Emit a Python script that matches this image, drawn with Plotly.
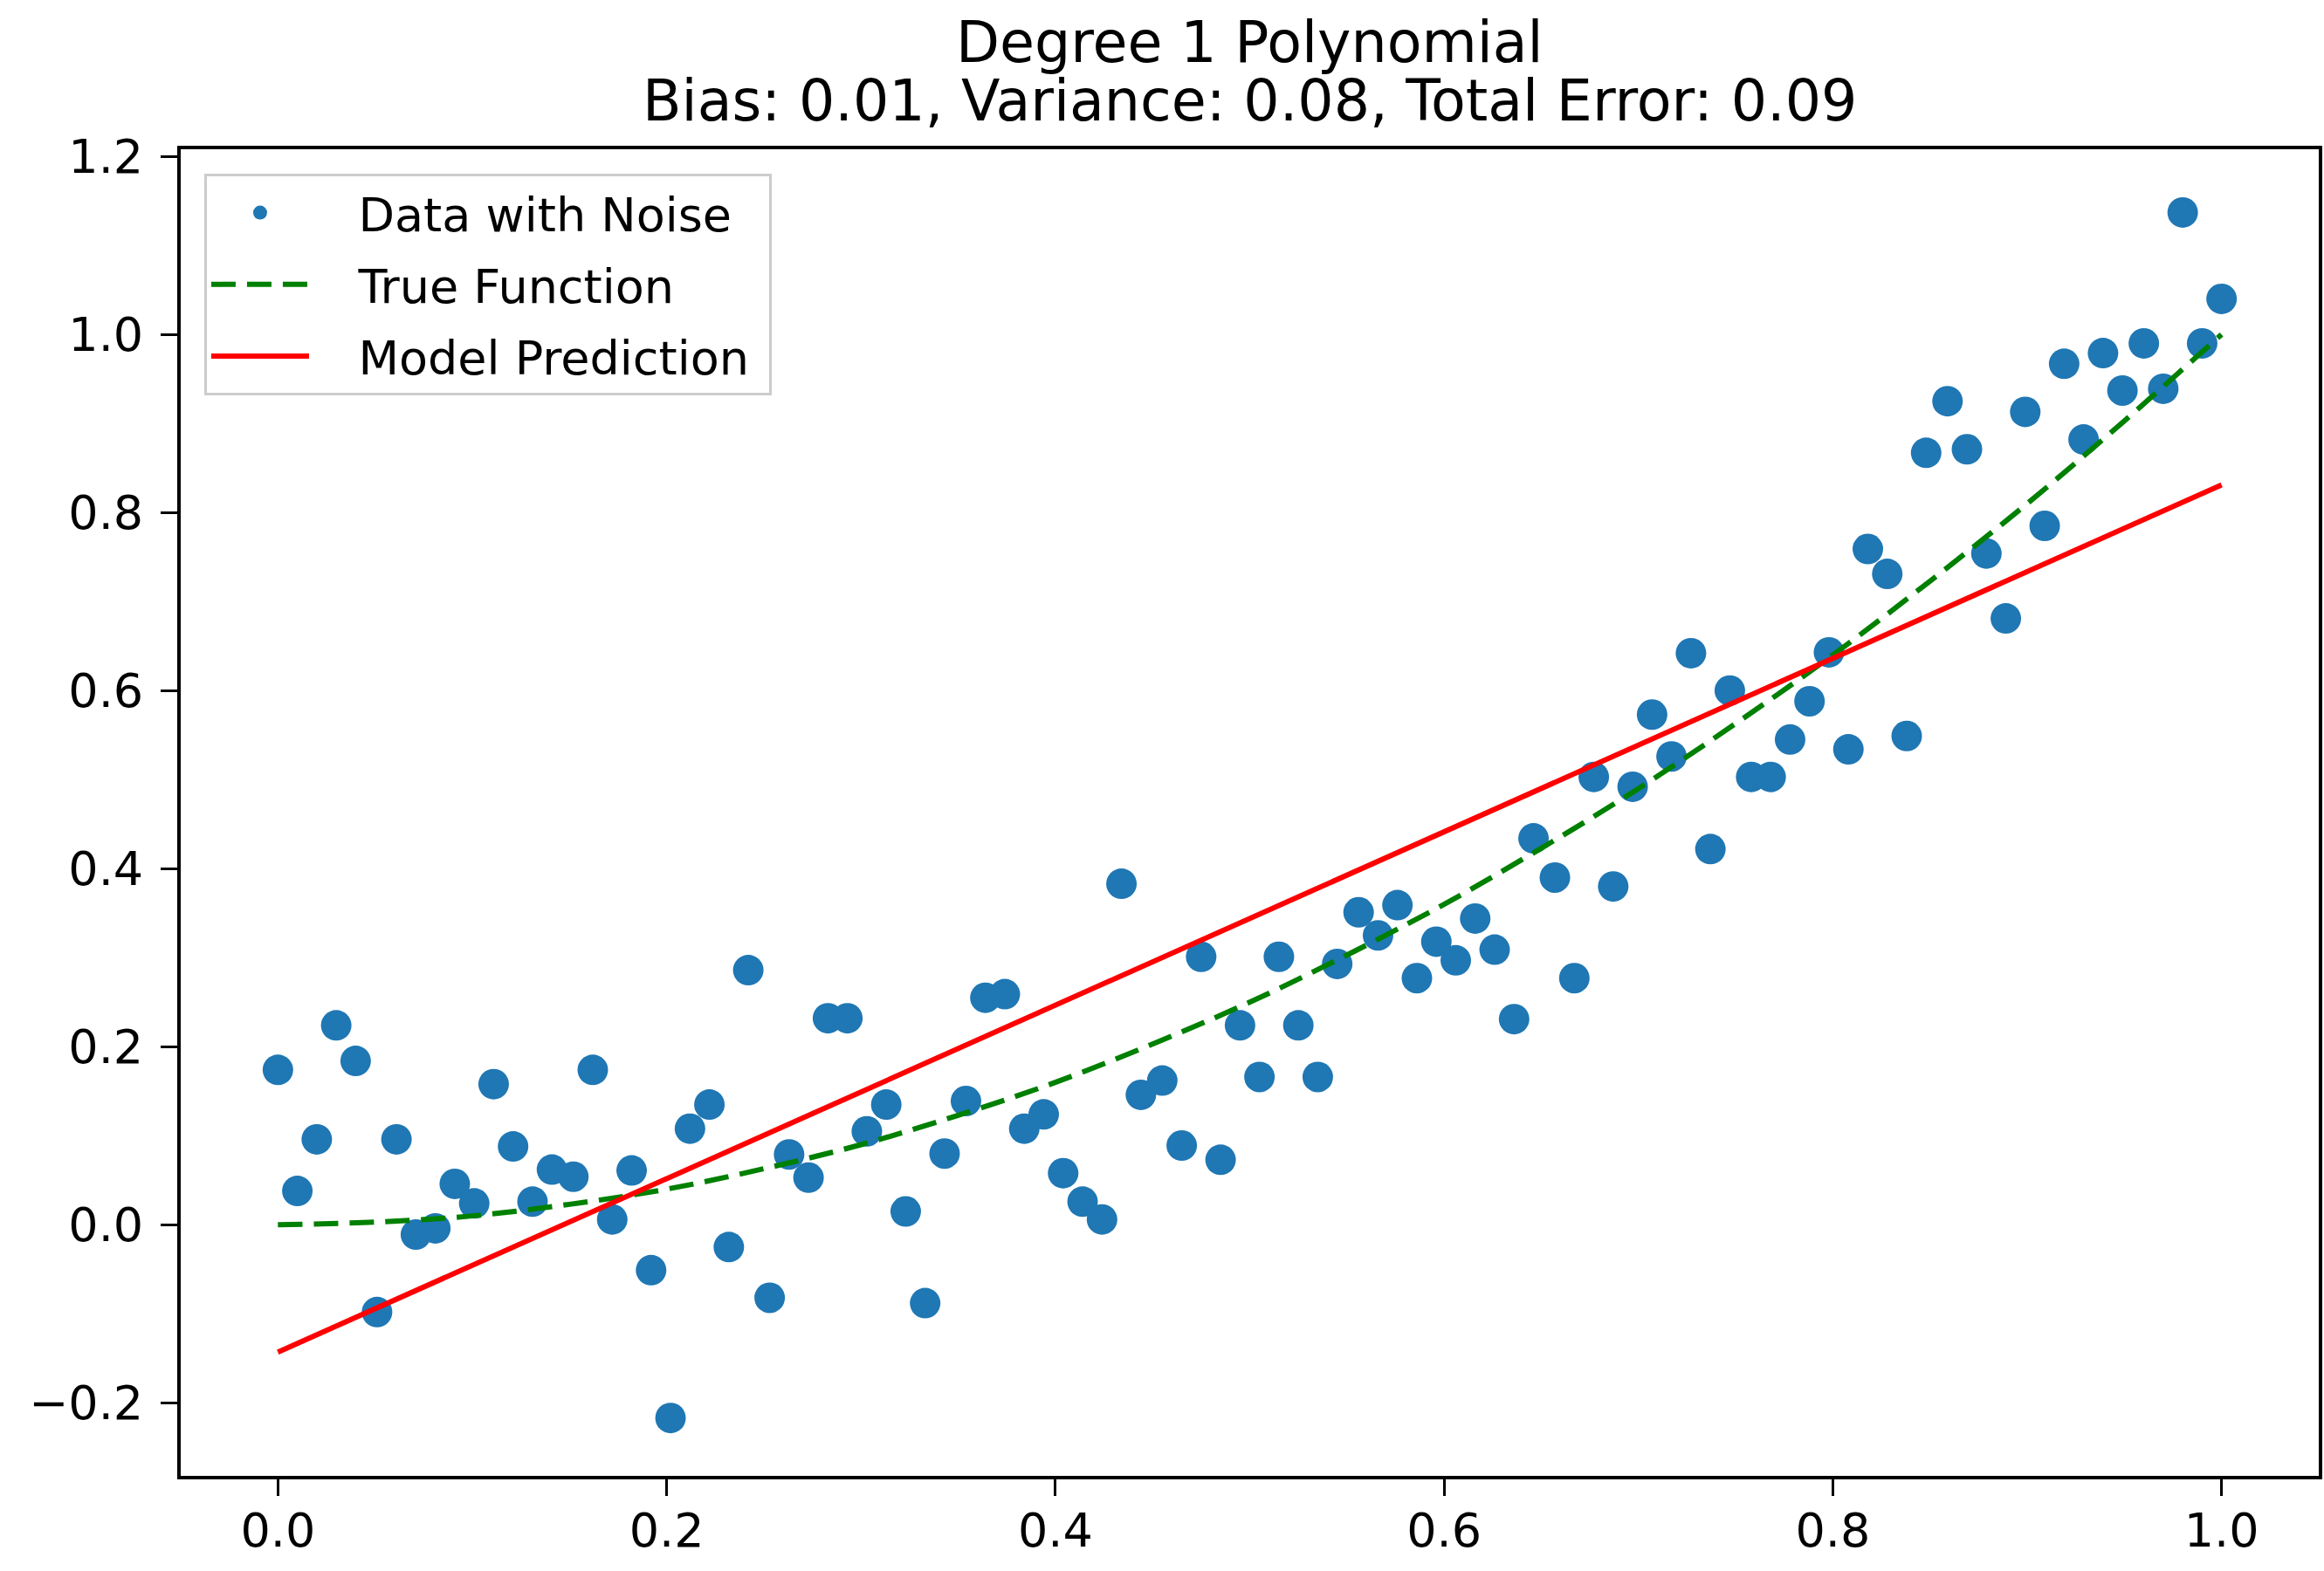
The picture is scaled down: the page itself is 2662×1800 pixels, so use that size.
import plotly.graph_objects as go

# ---- data ----
x_data = [0.000, 0.010, 0.020, 0.030, 0.040, 0.051, 0.061, 0.071, 0.081, 0.091,
          0.101, 0.111, 0.121, 0.131, 0.141, 0.152, 0.162, 0.172, 0.182, 0.192,
          0.202, 0.212, 0.222, 0.232, 0.242, 0.253, 0.263, 0.273, 0.283, 0.293,
          0.303, 0.313, 0.323, 0.333, 0.343, 0.354, 0.364, 0.374, 0.384, 0.394,
          0.404, 0.414, 0.424, 0.434, 0.444, 0.455, 0.465, 0.475, 0.485, 0.495,
          0.505, 0.515, 0.525, 0.535, 0.545, 0.556, 0.566, 0.576, 0.586, 0.596,
          0.606, 0.616, 0.626, 0.636, 0.646, 0.657, 0.667, 0.677, 0.687, 0.697,
          0.707, 0.717, 0.727, 0.737, 0.747, 0.758, 0.768, 0.778, 0.788, 0.798,
          0.808, 0.818, 0.828, 0.838, 0.848, 0.859, 0.869, 0.879, 0.889, 0.899,
          0.909, 0.919, 0.929, 0.939, 0.949, 0.960, 0.970, 0.980, 0.990, 1.000]

y_data = [0.174, 0.038, 0.096, 0.224, 0.184, -0.098, 0.096, -0.011, -0.004, 0.046,
          0.024, 0.158, 0.088, 0.026, 0.062, 0.054, 0.174, 0.006, 0.061, -0.051,
          -0.217, 0.108, 0.135, -0.025, 0.286, -0.082, 0.079, 0.053, 0.232, 0.232,
          0.105, 0.135, 0.015, -0.088, 0.080, 0.139, 0.255, 0.259, 0.108, 0.124,
          0.058, 0.026, 0.006, 0.383, 0.146, 0.162, 0.089, 0.301, 0.073, 0.224,
          0.166, 0.301, 0.224, 0.166, 0.293, 0.351, 0.325, 0.359, 0.277, 0.318,
          0.297, 0.344, 0.309, 0.231, 0.434, 0.390, 0.277, 0.503, 0.380, 0.492,
          0.573, 0.526, 0.642, 0.422, 0.600, 0.503, 0.503, 0.545, 0.588, 0.643,
          0.534, 0.759, 0.731, 0.549, 0.867, 0.925, 0.871, 0.754, 0.681, 0.913,
          0.785, 0.967, 0.882, 0.979, 0.937, 0.990, 0.939, 1.137, 0.990, 1.040]

x_true = [0.00, 0.05, 0.10, 0.15, 0.20, 0.25, 0.30, 0.35, 0.40, 0.45, 0.50,
          0.55, 0.60, 0.65, 0.70, 0.75, 0.80, 0.85, 0.90, 0.95, 1.00]
y_true = [0.000, 0.003, 0.010, 0.023, 0.040, 0.063, 0.090, 0.123, 0.160, 0.203, 0.250,
          0.303, 0.360, 0.423, 0.490, 0.563, 0.640, 0.723, 0.810, 0.903, 1.000]

x_model = [0.0, 1.0]
y_model = [-0.143, 0.831]

x_ticks = [0.0, 0.2, 0.4, 0.6, 0.8, 1.0]
x_ticklabels = ["0.0", "0.2", "0.4", "0.6", "0.8", "1.0"]
y_ticks = [-0.2, 0.0, 0.2, 0.4, 0.6, 0.8, 1.0, 1.2]
y_ticklabels = ["\u22120.2", "0.0", "0.2", "0.4", "0.6", "0.8", "1.0", "1.2"]

series_names = ["Data with Noise", "True Function", "Model Prediction"]

title_line1 = "Degree 1 Polynomial"
title_line2 = "Bias: 0.01, Variance: 0.08, Total Error: 0.09"

FONT = "DejaVu Sans"
GAP = "\u00a0\u00a0\u00a0"

W, H = 2662, 1800
L, T, B, R = 207, 171, 109, 2
PLOT_H = H - T - B

fig = go.Figure()
fig.add_trace(go.Scatter(
    x=x_data, y=y_data, mode="markers", name=GAP + series_names[0],
    legendgroup="a",
    marker=dict(color="#1f77b4", size=35, line=dict(width=0)),
))
fig.add_trace(go.Scatter(
    x=x_true, y=y_true, mode="lines", name=GAP + series_names[1],
    legendgroup="b", line_shape="spline",
    line=dict(color="#008000", width=6, dash="28px,13px"),
))
fig.add_trace(go.Scatter(
    x=x_model, y=y_model, mode="lines", name=GAP + series_names[2] + "\u00a0",
    legendgroup="c",
    line=dict(color="#ff0000", width=6),
))

axis_common = dict(
    showgrid=False, zeroline=False, showline=True, mirror=True,
    linecolor="black", linewidth=4, ticks="outside", ticklen=19,
    tickwidth=3, tickcolor="black",
    tickfont=dict(family=FONT, size=54, color="black"),
)

fig.update_xaxes(range=[-0.05, 1.05], tickvals=x_ticks, ticktext=x_ticklabels,
                 ticklabelstandoff=-7, **axis_common)
fig.update_yaxes(range=[-0.282, 1.208], tickvals=y_ticks, ticktext=y_ticklabels,
                 ticklabelstandoff=9, **axis_common)

fig.update_layout(
    width=W, height=H,
    margin=dict(l=L, r=R, t=T, b=B, pad=0),
    plot_bgcolor="white", paper_bgcolor="white",
    font=dict(family=FONT, size=54, color="black"),
    showlegend=True,
    legend=dict(
        x=0.011, y=1 - 28 / PLOT_H, xanchor="left", yanchor="top",
        bgcolor="rgba(255,255,255,0.8)", bordercolor="#cccccc", borderwidth=3,
        font=dict(family=FONT, size=54, color="black"),
        tracegroupgap=9, itemwidth=112, traceorder="grouped",
    ),
    annotations=[
        dict(text=title_line1, xref="paper", yref="paper", x=0.5, y=1 + 123 / PLOT_H,
             xanchor="center", yanchor="middle", showarrow=False,
             font=dict(family=FONT, size=65, color="black")),
        dict(text=title_line2, xref="paper", yref="paper", x=0.5, y=1 + 56 / PLOT_H,
             xanchor="center", yanchor="middle", showarrow=False,
             font=dict(family=FONT, size=65, color="black")),
    ],
)

# remove the default page margin and scrollbars so the figure fills the window exactly
fig.write_html(
    "out.html",
    config={"displayModeBar": False},
    post_script=(
        "document.body.style.margin='0px';"
        "document.body.style.overflow='hidden';"
        "document.documentElement.style.overflow='hidden';"
    ),
)
